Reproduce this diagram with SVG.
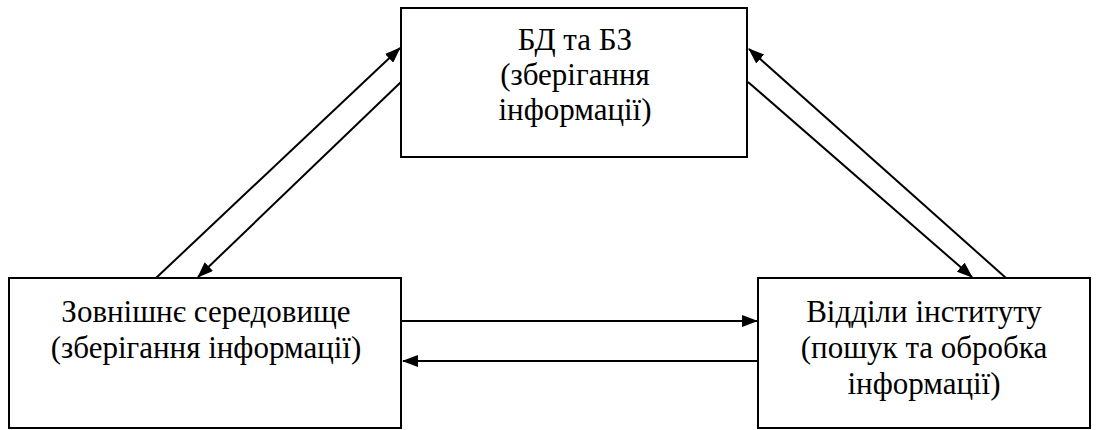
<svg xmlns="http://www.w3.org/2000/svg" width="1096" height="430" viewBox="0 0 1096 430">
<defs>
<marker id="ah" viewBox="0 0 16 12" refX="15" refY="6" markerWidth="16" markerHeight="12" markerUnits="userSpaceOnUse" orient="auto">
<path d="M0,0 L16,6 L0,12 Z" fill="#000"/>
</marker>
</defs>
<rect width="1096" height="430" fill="#fff"/>
<g id="connectors" stroke="#000" stroke-width="2" fill="none">
<line x1="156" y1="278" x2="400" y2="48" marker-end="url(#ah)"/>
<line x1="401" y1="82" x2="198" y2="277" marker-end="url(#ah)"/>
<line x1="1006" y1="278" x2="749" y2="49" marker-end="url(#ah)"/>
<line x1="748" y1="82" x2="972" y2="277" marker-end="url(#ah)"/>
<line x1="402" y1="321" x2="757" y2="321" marker-end="url(#ah)"/>
<line x1="758" y1="361" x2="403" y2="361" marker-end="url(#ah)"/>
</g>
<g id="node-bd">
<rect x="401" y="8" width="346" height="149" fill="#fff" stroke="#000" stroke-width="2"/>
<text x="575" y="50" style="font-family:'Liberation Serif','Times New Roman',serif;font-size:31px" text-anchor="middle">БД та БЗ</text>
<text x="575" y="85" style="font-family:'Liberation Serif','Times New Roman',serif;font-size:31px" text-anchor="middle">(зберігання</text>
<text x="575" y="120" style="font-family:'Liberation Serif','Times New Roman',serif;font-size:31px" text-anchor="middle">інформації)</text>
</g>
<g id="node-env">
<rect x="9" y="278" width="392" height="150" fill="#fff" stroke="#000" stroke-width="2"/>
<text x="206" y="322" style="font-family:'Liberation Serif','Times New Roman',serif;font-size:31px" text-anchor="middle">Зовнішнє середовище</text>
<text x="206" y="358" style="font-family:'Liberation Serif','Times New Roman',serif;font-size:31px" text-anchor="middle">(зберігання інформації)</text>
</g>
<g id="node-dept">
<rect x="758" y="278" width="332" height="150" fill="#fff" stroke="#000" stroke-width="2"/>
<text x="924" y="322" style="font-family:'Liberation Serif','Times New Roman',serif;font-size:31px" text-anchor="middle">Відділи інституту</text>
<text x="924" y="358" style="font-family:'Liberation Serif','Times New Roman',serif;font-size:31px" text-anchor="middle">(пошук та обробка</text>
<text x="924" y="394" style="font-family:'Liberation Serif','Times New Roman',serif;font-size:31px" text-anchor="middle">інформації)</text>
</g>
</svg>
